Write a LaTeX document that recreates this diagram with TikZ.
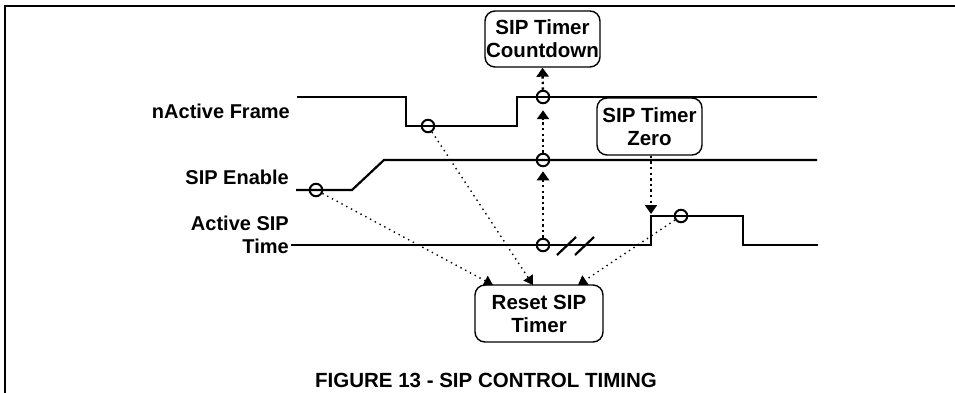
\documentclass[tikz,border=0pt]{standalone}
\usepackage{fontspec}
\setmainfont{Liberation Sans}
\usetikzlibrary{arrows.meta}
\begin{document}
\begin{tikzpicture}[x=1pt,y=-1pt,
  sig/.style={line width=2.2pt},
  box/.style={draw,line width=1.4pt,rounded corners=10pt,align=center,inner sep=0pt,
     font=\fontsize{20.5}{23}\selectfont\bfseries},
  lbl/.style={font=\fontsize{20}{23}\selectfont\bfseries,inner sep=0pt},
  evmark/.style={draw,circle,line width=2pt,minimum size=12.5pt,inner sep=0pt},
  vdot/.style={line width=2.4pt,dash pattern=on 2.4pt off 3.2pt,-{Triangle[width=12pt,length=9pt]}},
  ddot/.style={line width=1.4pt,dash pattern=on 1.4pt off 4pt,-{Triangle[width=11pt,length=9pt]}}]
\useasboundingbox (0,0) rectangle (955,393);
% frame
\draw[line width=2.5pt] (5,393) -- (5,6) -- (955,6);
% signals
\draw[sig] (297,97) -- (406,97) -- (406,126) -- (517,126) -- (517,97) -- (817,97);
\draw[sig] (296,190) -- (352,190) -- (384,160) -- (817,160);
\draw[sig] (291,245) -- (651,245) -- (651,216) -- (743,216) -- (743,245) -- (818,245);
\draw[sig] (557,255) -- (576,237);
\draw[sig] (575,255) -- (594,237);
% labels
\node[lbl,anchor=base east] (lnf) at (290,119) {nActive Frame};
\node[lbl,anchor=base east] (lse) at (289,184) {SIP Enable};
\node[lbl,anchor=base east] (las) at (289,230) {Active SIP};
\node[lbl,anchor=base east] (lat) at (289,253) {Time};
% boxes
\node[box,minimum width=115pt,minimum height=56pt] (cd) at (542.5,39) {SIP Timer\\Countdown};
\node[box,minimum width=105pt,minimum height=57pt] (zr) at (649.5,126.5) {SIP Timer\\Zero};
\node[box,minimum width=128pt,minimum height=57pt] (rs) at (539,313.5) {Reset SIP\\Timer};
% event marks
\node[evmark] (c1) at (428,126) {};
\node[evmark] (c2) at (316,190) {};
\node[evmark] (c3) at (543,97) {};
\node[evmark] (c4) at (543,160) {};
\node[evmark] (c5) at (543,245) {};
\node[evmark] (c6) at (681,216) {};
\coordinate (r1) at (493,285);
\coordinate (r2) at (533,285);
\coordinate (r3) at (578,285);
\coordinate (z1) at (651,214);
% connectors
\draw[vdot,shorten >=4pt] (c5) -- (c4);
\draw[vdot,shorten >=6pt] (c4) -- (c3);
\draw[vdot] (c3) -- (cd.south);
\draw[vdot] (zr.south -| z1) -- (z1);
\draw[ddot] (c2) -- (r1);
\draw[ddot] (c1) -- (r2);
\draw[ddot] (c6) -- (r3);
% caption
\node[font=\fontsize{20.5}{23}\selectfont\bfseries,inner sep=0pt,anchor=base] (cap) at (486,387) {FIGURE 13 - SIP CONTROL TIMING};
\end{tikzpicture}
\end{document}
